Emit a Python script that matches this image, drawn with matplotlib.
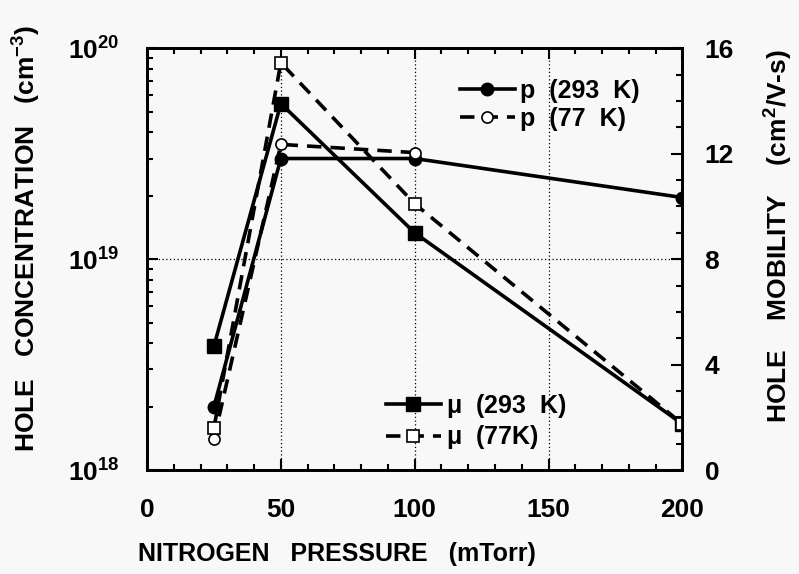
import matplotlib.pyplot as plt
from matplotlib.ticker import LogLocator, MultipleLocator, NullFormatter, FixedLocator

plt.rcParams['font.family'] = ['Liberation Sans', 'DejaVu Sans']
plt.rcParams['font.weight'] = 'bold'
plt.rcParams['mathtext.fontset'] = 'custom'
plt.rcParams['mathtext.rm'] = 'Liberation Sans:bold'
plt.rcParams['mathtext.bf'] = 'Liberation Sans:bold'
plt.rcParams['mathtext.it'] = 'Liberation Sans:bold'

# 데이터
pressure = [25, 50, 100, 200]
p_293 = [2.0e18, 3.0e19, 3.0e19, 1.96e19]
pressure_77 = [25, 50, 100]
p_77 = [1.4e18, 3.5e19, 3.2e19]
mu_293 = [4.7, 13.9, 9.0, 1.75]
mu_77 = [1.6, 15.45, 10.1, 1.75]

fig = plt.figure(figsize=(7.99, 5.74), dpi=100, facecolor='#f8f8f8')
ax = fig.add_subplot(111)
ax.set_facecolor('#f8f8f8')
fig.subplots_adjust(left=0.184, right=0.854, top=0.916, bottom=0.181)

ax.set_yscale('log')
ax.set_xlim(0, 200)
ax.set_ylim(1e18, 1e20)

ax2 = ax.twinx()
ax2.set_ylim(0, 16)

# 선 그래프
l1, = ax.plot(pressure, p_293, '-', color='black', lw=2.6, marker='o', ms=9,
              mfc='black', mec='black')
l2, = ax.plot(pressure_77, p_77, '--', color='black', lw=2.6, marker='o', ms=8,
              mfc='white', mec='black', mew=1.2, dashes=(4, 2.5))
l3, = ax2.plot(pressure, mu_293, '-', color='black', lw=2.6, marker='s', ms=10,
               mfc='black', mec='black')
l4, = ax2.plot(pressure, mu_77, '--', color='black', lw=2.6, marker='s', ms=9,
               mfc='white', mec='black', mew=1.2, dashes=(4, 2.5))

# 격자
for xv in [50, 100, 150]:
    ax.axvline(xv, color='black', lw=0.9, ls=(0, (1, 2)), zorder=0)
ax.axhline(1e19, color='black', lw=0.9, ls=(0, (1, 2)), zorder=0)

# 눈금
ax.xaxis.set_major_locator(MultipleLocator(50))
ax.xaxis.set_minor_locator(MultipleLocator(10))
ax.yaxis.set_major_locator(FixedLocator([1e18, 1e19, 1e20]))
ax.yaxis.set_minor_locator(LogLocator(base=10, subs=range(2, 10)))
ax.yaxis.set_minor_formatter(NullFormatter())
ax.set_yticklabels([r'$\mathbf{10^{18}}$', r'$\mathbf{10^{19}}$', r'$\mathbf{10^{20}}$'])
ax2.yaxis.set_major_locator(MultipleLocator(4))
ax2.yaxis.set_minor_locator(MultipleLocator(1))

ax.tick_params(which='both', direction='in', top=True, right=False, width=1.5)
ax.tick_params(axis='x', which='major', length=8, labelsize=19, pad=20)
ax.tick_params(axis='y', which='major', length=8, labelsize=19, pad=20)
ax.tick_params(which='minor', length=4)
ax2.tick_params(which='both', direction='in', width=1.5)
ax2.tick_params(which='major', length=8, labelsize=19, pad=16)
ax2.tick_params(which='minor', length=4)

for a in (ax, ax2):
    for s in a.spines.values():
        s.set_linewidth(2)

ax.set_xlabel('NITROGEN   PRESSURE   (mTorr)', fontsize=18, fontweight='bold')
ax.xaxis.set_label_coords(0.355, -0.17)
ax.set_ylabel(r'HOLE   CONCENTRATION   (cm$^{-3}$)', fontsize=19, fontweight='bold')
ax.yaxis.set_label_coords(-0.194, 0.55)
ax2.set_ylabel(r'HOLE    MOBILITY    (cm$^{2}$/V-s)', fontsize=19, fontweight='bold')
ax2.yaxis.set_label_coords(1.15, 0.555)

# 범례
leg1 = ax2.legend([l1, l2], ['p  (293  K)', 'p  (77  K)'], loc='upper left',
                  bbox_to_anchor=(0.563, 0.88), bbox_transform=fig.transFigure,
                  frameon=False, fontsize=18, handlelength=2.2, handletextpad=0.2,
                  labelspacing=0.15, borderaxespad=0)
ax2.add_artist(leg1)
ax2.legend([l3, l4], [r'$\mu$  (293  K)', r'$\mu$  (77K)'], loc='upper left',
           bbox_to_anchor=(0.47, 0.335), bbox_transform=fig.transFigure,
           frameon=False, fontsize=18, handlelength=2.2, handletextpad=0.2,
           labelspacing=0.15, borderaxespad=0)

fig.savefig('out.png', dpi=100, facecolor=fig.get_facecolor())
